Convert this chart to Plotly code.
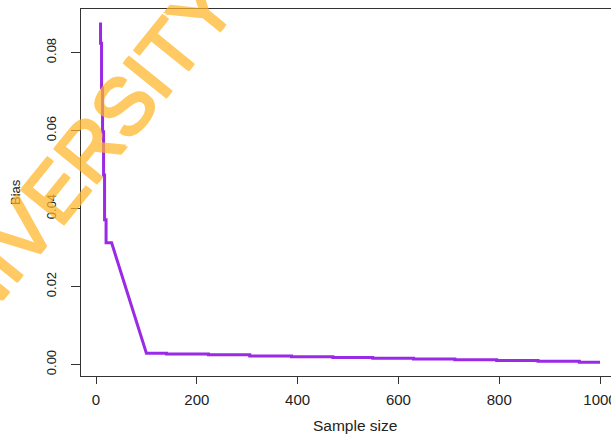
import plotly.graph_objects as go

# Bias of the estimator against sample size (vertices of the plotted path)
sample_size = [9, 9, 11, 11, 13, 13, 15, 15, 17, 17, 20, 20, 31,
               100, 140, 140, 223, 223, 305, 305, 388, 388, 470, 470,
               549, 549, 630, 630, 712, 712, 795, 795, 877, 877, 959, 959, 1000]
bias = [0.0877, 0.0824, 0.0824, 0.0709, 0.0709, 0.0597, 0.0597, 0.0486, 0.0486,
        0.0371, 0.0371, 0.0312, 0.0312,
        0.0029, 0.0029, 0.0027, 0.0027, 0.0025, 0.0025, 0.0022, 0.0022, 0.0020,
        0.0020, 0.0018, 0.0018, 0.0016, 0.0016, 0.0014, 0.0014, 0.0012, 0.0012,
        0.0010, 0.0010, 0.0008, 0.0008, 0.0006, 0.0006]

x_ticks = [0, 200, 400, 600, 800, 1000]
y_ticks = [0.00, 0.02, 0.04, 0.06, 0.08]
y_tick_text = ["0.00", "0.02", "0.04", "0.06", "0.08"]

W, H = 611, 436
L, R, T, B = 81, 0, 9, 60

fig = go.Figure()
fig.add_trace(go.Scatter(
    x=sample_size, y=bias, mode="lines",
    line=dict(color="#9a2ae6", width=3),
    hoverinfo="skip", showlegend=False,
))

axis_col = "#333333"
fig.update_layout(
    width=W, height=H,
    margin=dict(l=L, r=R, t=T, b=B, pad=0),
    paper_bgcolor="white", plot_bgcolor="white",
    font=dict(family="Liberation Sans, Arial, sans-serif", color="#222222"),
    xaxis=dict(
        range=[-29.76, 1021.8], tickvals=x_ticks,
        ticks="outside", ticklen=7, tickwidth=1, tickcolor=axis_col,
        showline=True, linecolor=axis_col, linewidth=1.3, mirror=True,
        showgrid=False, zeroline=False, automargin=False,
        tickfont=dict(size=15), ticklabelstandoff=3,
        ticklabeloverflow="allow",
    ),
    yaxis=dict(
        range=[-0.00295, 0.09115], tickvals=y_ticks, ticktext=y_tick_text,
        ticks="outside", ticklen=9, tickwidth=1, tickcolor=axis_col,
        showline=True, linecolor=axis_col, linewidth=1.3,
        showgrid=False, zeroline=False, automargin=False,
        tickangle=-90, tickfont=dict(size=13), ticklabelstandoff=10,
    ),
)

def px_to_paper(px, py):
    return (px - L) / (W - L - R), (H - B - py) / (H - T - B)

# axis titles
ax, ay = px_to_paper(355, 425)
fig.add_annotation(text="Sample size", x=ax, y=ay, xref="paper", yref="paper",
                   showarrow=False, font=dict(size=15.5, color="#222222"),
                   xanchor="center", yanchor="middle")
bx, by = px_to_paper(15, 192)
fig.add_annotation(text="Bias", x=bx, y=by, xref="paper", yref="paper",
                   showarrow=False, textangle=-90,
                   font=dict(size=13, color="#222222"),
                   xanchor="center", yanchor="middle")

# watermark across the upper-left of the figure; a same-colour shadow
# thickens the strokes, the group opacity keeps it see-through
wm_col = "#FFB628"
wx, wy = px_to_paper(110, 124)
fig.add_annotation(text="UNIVERSITY OF", x=wx, y=wy, xref="paper", yref="paper",
                   showarrow=False, textangle=-51, opacity=0.72,
                   font=dict(size=79, color=wm_col,
                             family="Liberation Sans Narrow, Liberation Sans, sans-serif",
                             shadow=(f"1.2px 1.2px 0 {wm_col}, -1.2px -1.2px 0 {wm_col}, "
                                     f"1.2px -1.2px 0 {wm_col}, -1.2px 1.2px 0 {wm_col}")),
                   xanchor="center", yanchor="middle")

fig.write_html("out.html")
